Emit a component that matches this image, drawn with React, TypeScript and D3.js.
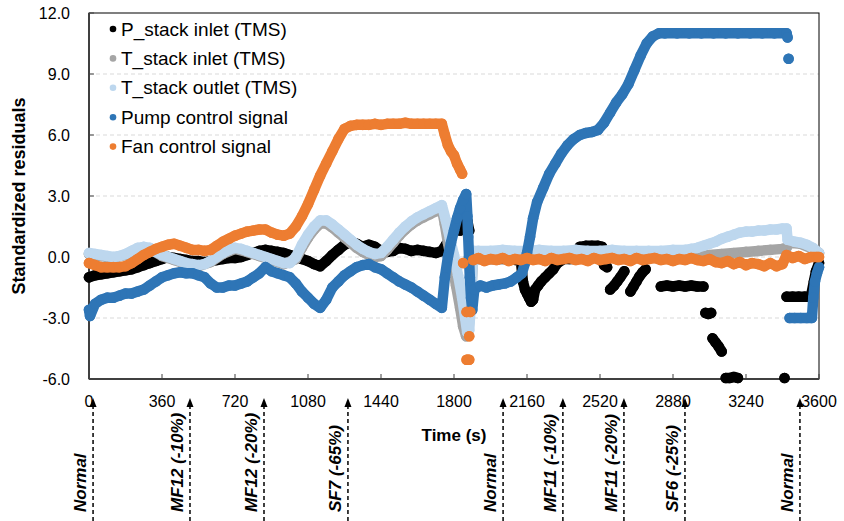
import { useRef, useEffect } from 'react';
import * as d3 from 'd3';

type Pt = [number, number | null];

// series: [time (s), standardized residual] ; null breaks the trace
const pStackInlet: Pt[] = [
  [0, -1.0], [30, -0.9], [60, -0.85], [90, -0.8], [120, -0.75], [150, -0.7], [180, -0.65], [210, -0.6],
  [240, -0.5], [270, -0.4], [300, -0.3], [330, -0.2], [360, -0.1], [390, 0.0], [420, -0.05], [450, -0.1],
  [480, -0.15], [510, -0.2], [540, -0.2], [570, -0.25], [600, -0.2], [630, -0.15], [660, -0.1], [690, -0.05],
  [720, -0.05], [750, 0.0], [780, 0.1], [810, 0.2], [840, 0.3], [870, 0.35], [900, 0.3], [930, 0.25],
  [960, 0.2], [990, 0.1], [1020, 0.0], [1050, -0.1], [1080, -0.2], [1110, -0.35], [1140, -0.45], [1170, -0.2],
  [1200, 0.1], [1230, 0.35], [1260, 0.6], [1290, 0.75], [1320, 0.65], [1350, 0.5], [1380, 0.6], [1410, 0.5],
  [1440, 0.3], [1470, 0.25], [1500, 0.3], [1530, 0.45], [1560, 0.4], [1590, 0.3], [1620, 0.35], [1650, 0.3],
  [1680, 0.25], [1710, 0.2], [1740, 0.3], [1760, 0.6], [1770, null],
  [1830, 1.3], [1845, 2.0], [1855, 2.2], [1865, 1.8], [1875, 1.3], [1885, null],
  [1900, -0.1], [1960, -0.1], [2020, -0.1], [2080, -0.1], [2130, -0.2],
  [2140, -1.2], [2150, -1.6], [2160, -1.8], [2170, -2.0], [2180, -2.2], [2190, -2.1], [2200, -1.6],
  [2215, -1.4], [2230, -1.2], [2250, -1.0], [2270, -0.8], [2290, -0.6], [2310, -0.3], [2340, -0.1],
  [2370, -0.1], [2400, -0.1], [2410, null],
  [2420, 0.5], [2450, 0.55], [2480, 0.55], [2510, 0.55], [2530, 0.5], [2535, null],
  [2540, -0.4], [2555, -0.5], [2560, null],
  [2570, -1.6], [2590, -1.4], [2605, -1.2], [2620, -1.0], [2640, -0.7], [2645, null],
  [2670, -1.7], [2685, -1.45], [2700, -1.2], [2715, -0.95], [2730, -0.75], [2745, -0.6], [2750, null],
  [2820, -1.45], [2850, -1.4], [2880, -1.45], [2910, -1.4], [2940, -1.45], [2970, -1.4], [3000, -1.45],
  [3030, -1.45], [3035, null],
  [3040, -2.75], [3055, -2.8], [3068, -2.75], [3070, null],
  [3075, -4.0], [3090, -4.2], [3105, -4.4], [3120, -4.65], [3125, null],
  [3140, -5.95], [3160, -5.95], [3180, -5.9], [3200, -5.95], [3205, null],
  [3430, -5.95], [3432, null],
  [3440, -1.95], [3470, -1.95], [3500, -1.95], [3530, -1.95], [3560, -1.95], [3575, -1.2], [3585, -0.7],
  [3600, -0.3],
];

const tStackInlet: Pt[] = [
  [0, 0.15], [60, 0.05], [120, -0.05], [180, 0.1], [240, 0.4], [300, 0.4], [360, 0.05], [420, -0.15],
  [480, -0.35], [540, -0.45], [600, -0.25], [660, 0.15], [720, 0.4], [780, 0.25], [840, 0.05], [900, -0.15],
  [960, -0.35], [1020, -0.1], [1050, 0.45], [1080, 0.95], [1110, 1.35], [1140, 1.65], [1170, 1.65],
  [1200, 1.45], [1230, 1.2], [1260, 0.95], [1290, 0.7], [1320, 0.45], [1350, 0.25], [1380, 0.1],
  [1410, 0.0], [1440, 0.05], [1470, 0.35], [1500, 0.7], [1530, 1.05], [1560, 1.35], [1590, 1.6],
  [1620, 1.8], [1650, 1.95], [1680, 2.1], [1710, 2.25], [1740, 2.4], [1755, 1.6], [1770, 0.7],
  [1790, -0.3], [1810, -1.4], [1830, -2.5], [1845, -3.4], [1860, -3.9], [1872, -3.5], [1885, -1.8],
  [1895, 0.2], [2000, 0.2], [2200, 0.2], [2400, 0.2], [2600, 0.2], [2800, 0.2], [2940, 0.2],
  [3000, 0.1], [3060, 0.1], [3120, 0.15], [3180, 0.2], [3240, 0.25], [3300, 0.3], [3360, 0.35],
  [3420, 0.4], [3440, 0.45], [3450, 0.7], [3510, 0.65], [3570, 0.4], [3600, 0.2],
];

const tStackOutlet: Pt[] = [
  [0, 0.2], [30, 0.15], [60, 0.1], [90, 0.05], [120, 0.0], [150, 0.05], [180, 0.15], [210, 0.3],
  [240, 0.45], [270, 0.5], [300, 0.45], [330, 0.25], [360, 0.1], [390, 0.0], [420, -0.1], [450, -0.2],
  [480, -0.3], [510, -0.35], [540, -0.4], [570, -0.35], [600, -0.2], [630, 0.0], [660, 0.2], [690, 0.35],
  [720, 0.45], [750, 0.4], [780, 0.3], [810, 0.2], [840, 0.1], [870, 0.0], [900, -0.1], [930, -0.2],
  [960, -0.3], [990, -0.3], [1020, 0.0], [1050, 0.6], [1080, 1.1], [1110, 1.5], [1140, 1.8], [1170, 1.8],
  [1200, 1.6], [1230, 1.35], [1260, 1.1], [1290, 0.85], [1320, 0.6], [1350, 0.4], [1380, 0.25],
  [1410, 0.15], [1440, 0.2], [1470, 0.5], [1500, 0.85], [1530, 1.2], [1560, 1.5], [1590, 1.75],
  [1620, 1.95], [1650, 2.1], [1680, 2.25], [1710, 2.4], [1740, 2.55], [1760, 1.8], [1780, 0.9],
  [1800, 0.1], [1820, -0.9], [1840, -2.0], [1855, -3.0], [1865, -3.7], [1875, -3.6], [1885, -2.0],
  [1895, 0.3], [1920, 0.3], [1980, 0.3], [2040, 0.35], [2100, 0.3], [2160, 0.3], [2220, 0.35],
  [2280, 0.3], [2340, 0.3], [2400, 0.35], [2460, 0.3], [2520, 0.3], [2580, 0.35], [2640, 0.3],
  [2700, 0.3], [2760, 0.3], [2820, 0.3], [2880, 0.35], [2940, 0.35], [2970, 0.4], [3000, 0.45],
  [3030, 0.55], [3060, 0.65], [3090, 0.75], [3120, 0.9], [3150, 1.0], [3180, 1.1], [3210, 1.2],
  [3240, 1.25], [3270, 1.25], [3300, 1.3], [3330, 1.3], [3360, 1.35], [3390, 1.35], [3420, 1.4],
  [3440, 1.4], [3445, 0.85], [3480, 0.75], [3510, 0.7], [3540, 0.6], [3570, 0.45], [3600, 0.2],
];

const pumpSignal: Pt[] = [
  [0, -2.6], [5, -2.9], [30, -2.3], [60, -2.1], [90, -2.0], [120, -2.0], [150, -1.9], [180, -1.8],
  [210, -1.8], [240, -1.7], [270, -1.6], [300, -1.4], [330, -1.2], [360, -1.0], [390, -0.9], [420, -0.8],
  [450, -0.75], [480, -0.8], [510, -0.8], [540, -0.9], [570, -1.0], [600, -1.3], [630, -1.5], [660, -1.5],
  [690, -1.4], [720, -1.4], [750, -1.3], [780, -1.2], [810, -1.0], [840, -0.8], [870, -0.5], [900, -0.7],
  [930, -0.8], [960, -0.9], [990, -1.0], [1020, -1.3], [1050, -1.7], [1080, -2.0], [1110, -2.3],
  [1140, -2.5], [1170, -2.1], [1200, -1.5], [1230, -1.2], [1260, -0.9], [1290, -0.7], [1320, -0.5],
  [1350, -0.4], [1380, -0.35], [1410, -0.5], [1440, -0.6], [1470, -0.8], [1500, -1.0], [1530, -1.2],
  [1560, -1.35], [1590, -1.5], [1620, -1.7], [1650, -1.9], [1680, -2.1], [1710, -2.3], [1740, -2.5],
  [1755, -1.0], [1770, 0.0], [1785, 0.7], [1800, 1.3], [1815, 1.9], [1830, 2.4], [1845, 2.8],
  [1860, 3.1], [1866, 2.0], [1870, 1.0], [1874, 0.0], [1878, -1.0], [1884, -2.0], [1890, -2.6],
  [1900, -1.6], [1930, -1.4], [1960, -1.5], [1990, -1.4], [2020, -1.35], [2050, -1.3], [2080, -1.2],
  [2110, -1.0], [2135, -0.8], [2150, -0.3], [2160, 0.2], [2175, 1.0], [2190, 1.9], [2210, 2.7],
  [2240, 3.4], [2270, 4.1], [2300, 4.6], [2330, 5.1], [2360, 5.5], [2390, 5.8], [2420, 6.0],
  [2450, 6.1], [2480, 6.15], [2510, 6.25], [2540, 6.6], [2570, 7.1], [2600, 7.6], [2630, 8.0],
  [2660, 8.5], [2690, 9.2], [2720, 9.9], [2750, 10.5], [2780, 10.85], [2810, 11.0], [2840, 11.0],
  [2900, 11.0], [2960, 11.0], [3020, 11.0], [3080, 11.0], [3140, 11.0], [3200, 11.0], [3260, 11.0],
  [3320, 11.0], [3380, 11.0], [3440, 11.0], [3445, 10.8], [3447, null],
  [3450, 9.75], [3452, null],
  [3455, -3.0], [3480, -3.0], [3510, -3.0], [3540, -3.0], [3565, -3.0], [3572, -2.0], [3580, -1.2],
  [3590, -0.8], [3600, -0.5],
];

const fanSignal: Pt[] = [
  [0, -0.3], [30, -0.4], [60, -0.5], [90, -0.5], [120, -0.5], [150, -0.5], [180, -0.45], [210, -0.3],
  [240, -0.1], [270, 0.1], [300, 0.25], [330, 0.4], [360, 0.5], [390, 0.6], [420, 0.65], [450, 0.55],
  [480, 0.45], [510, 0.35], [540, 0.35], [570, 0.3], [600, 0.35], [630, 0.55], [660, 0.75], [690, 0.9],
  [720, 1.05], [750, 1.15], [780, 1.25], [810, 1.3], [840, 1.35], [870, 1.35], [900, 1.2], [930, 1.1],
  [960, 1.05], [990, 1.15], [1020, 1.5], [1050, 2.0], [1080, 2.6], [1110, 3.3], [1140, 4.0], [1170, 4.6],
  [1200, 5.2], [1230, 5.8], [1260, 6.3], [1290, 6.45], [1320, 6.5], [1350, 6.5], [1380, 6.5],
  [1410, 6.55], [1440, 6.5], [1470, 6.55], [1500, 6.55], [1530, 6.55], [1560, 6.6], [1590, 6.55],
  [1620, 6.55], [1650, 6.55], [1680, 6.55], [1710, 6.55], [1740, 6.55], [1755, 6.0], [1770, 5.5],
  [1785, 5.2], [1800, 5.0], [1815, 4.6], [1830, 4.3], [1840, 4.1], [1842, null],
  [1845, -0.3], [1847, null],
  [1862, -2.7], [1863, null], [1880, -2.7], [1881, null],
  [1875, -3.9], [1876, null],
  [1862, -5.05], [1868, -5.05], [1875, -5.05], [1877, null],
  [1895, -0.15], [1920, -0.05], [1950, -0.2], [1980, -0.1], [2010, -0.15], [2040, -0.05], [2070, -0.2],
  [2100, -0.1], [2130, -0.15], [2160, -0.05], [2190, -0.15], [2220, -0.1], [2250, -0.2], [2280, -0.05],
  [2310, -0.15], [2340, -0.1], [2370, -0.05], [2400, -0.15], [2430, -0.1], [2460, -0.2], [2490, -0.05],
  [2520, -0.15], [2550, -0.1], [2580, -0.05], [2610, -0.15], [2640, -0.1], [2670, -0.2], [2700, -0.05],
  [2730, -0.15], [2760, -0.1], [2790, -0.05], [2820, -0.15], [2850, -0.1], [2880, -0.2], [2910, -0.1],
  [2940, -0.15], [2970, -0.05], [3000, -0.15], [3030, -0.2], [3060, -0.1], [3090, -0.25], [3120, -0.3],
  [3150, -0.2], [3180, -0.35], [3210, -0.25], [3240, -0.4], [3270, -0.3], [3300, -0.35], [3330, -0.45],
  [3360, -0.3], [3390, -0.45], [3420, -0.35], [3440, 0.1], [3470, -0.05], [3500, 0.05], [3530, -0.1],
  [3560, 0.0], [3590, 0.0], [3600, 0.0],
];

const seriesNames = ['P_stack inlet (TMS)', 'T_stack inlet (TMS)', 'T_stack outlet (TMS)', 'Pump control signal', 'Fan control signal'];
const seriesColors = ['#000000', '#a5a5a5', '#bdd7ee', '#2e75b6', '#ed7d31'];
const seriesData = [pStackInlet, tStackInlet, tStackOutlet, pumpSignal, fanSignal];

const xTicks = [0, 360, 720, 1080, 1440, 1800, 2160, 2520, 2880, 3240, 3600];
const yTicks = [-6, -3, 0, 3, 6, 9, 12];

// fault events marked under the time axis
const eventTimes = [20, 498, 863, 1277, 2042, 2337, 2638, 2939, 3506];
const eventLabels = ['Normal', 'MF12 (-10%)', 'MF12 (-20%)', 'SF7 (-65%)', 'Normal', 'MF11 (-10%)', 'MF11 (-20%)', 'SF6 (-25%)', 'Normal'];

export default function App() {
  const svgRef = useRef<SVGSVGElement>(null);

  useEffect(() => {
    const width = 844;
    const height = 521;
    const left = 89, right = 819, top = 13, bottom = 379;

    const svg = d3.select(svgRef.current).attr('width', width).attr('height', height);
    svg.selectAll('*').remove();

    const x = d3.scaleLinear().domain([0, 3600]).range([left, right]);
    const y = d3.scaleLinear().domain([-6, 12]).range([bottom, top]);
    const font = 'Arial, "Liberation Sans", sans-serif';

    // gridlines
    svg.append('g').selectAll('line')
      .data(yTicks.filter(t => t > -6 && t < 12))
      .join('line')
      .attr('x1', left).attr('x2', right)
      .attr('y1', d => y(d)).attr('y2', d => y(d))
      .attr('stroke', '#d9d9d9').attr('stroke-width', 1).attr('stroke-dasharray', '4,3');

    // frame
    svg.append('rect')
      .attr('x', left).attr('y', top).attr('width', right - left).attr('height', bottom - top)
      .attr('fill', 'none').attr('stroke', '#000').attr('stroke-width', 1);

    // axes lines
    svg.append('line').attr('x1', left).attr('x2', left).attr('y1', top).attr('y2', bottom)
      .attr('stroke', '#404040').attr('stroke-width', 2);
    svg.append('line').attr('x1', left).attr('x2', right).attr('y1', bottom).attr('y2', bottom)
      .attr('stroke', '#404040').attr('stroke-width', 2);

    // ticks
    svg.append('g').selectAll('line').data(xTicks).join('line')
      .attr('x1', d => x(d)).attr('x2', d => x(d)).attr('y1', bottom).attr('y2', bottom - 5)
      .attr('stroke', '#404040').attr('stroke-width', 1);
    svg.append('g').selectAll('line').data(yTicks).join('line')
      .attr('x1', left).attr('x2', left + 5).attr('y1', d => y(d)).attr('y2', d => y(d))
      .attr('stroke', '#404040').attr('stroke-width', 1);

    svg.append('g').selectAll('text').data(xTicks).join('text')
      .attr('x', d => x(d)).attr('y', bottom + 28)
      .attr('text-anchor', 'middle').attr('font-family', font).attr('font-size', 16).attr('fill', '#000')
      .text(d => d);
    svg.append('g').selectAll('text').data(yTicks).join('text')
      .attr('x', left - 19).attr('y', d => y(d)).attr('dy', '0.35em')
      .attr('text-anchor', 'end').attr('font-family', font).attr('font-size', 16).attr('fill', '#000')
      .text(d => d.toFixed(1));

    // axis titles
    svg.append('text')
      .attr('transform', `translate(25,${(top + bottom) / 2}) rotate(-90)`)
      .attr('text-anchor', 'middle').attr('font-family', font).attr('font-size', 18).attr('font-weight', 'bold')
      .text('Standardized residuals');
    svg.append('text')
      .attr('x', 454).attr('y', 441)
      .attr('text-anchor', 'middle').attr('font-family', font).attr('font-size', 17).attr('font-weight', 'bold')
      .text('Time (s)');

    // series
    const line = d3.line<Pt>()
      .defined(d => d[1] !== null)
      .x(d => x(d[0]))
      .y(d => y(d[1] as number));

    seriesData.forEach((data, i) => {
      const g = svg.append('g');
      g.append('path')
        .datum(data)
        .attr('d', line)
        .attr('fill', 'none')
        .attr('stroke', seriesColors[i])
        .attr('stroke-width', 10.5)
        .attr('stroke-linejoin', 'round')
        .attr('stroke-linecap', 'round');
      g.selectAll('circle')
        .data(data.filter(d => d[1] !== null))
        .join('circle')
        .attr('cx', d => x(d[0]))
        .attr('cy', d => y(d[1] as number))
        .attr('r', 5.3)
        .attr('fill', seriesColors[i]);
    });

    // legend
    const legend = svg.append('g');
    seriesNames.forEach((name, i) => {
      const cy = 29 + i * 29.4;
      legend.append('circle').attr('cx', 113).attr('cy', cy).attr('r', 3.3).attr('fill', seriesColors[i]);
      legend.append('text').attr('x', 121).attr('y', cy + 6.5)
        .attr('font-family', font).attr('font-size', 19).attr('fill', '#000')
        .text(name);
    });

    // event arrows
    const events = svg.append('g');
    eventTimes.forEach((t, i) => {
      const ex = x(t);
      events.append('line')
        .attr('x1', ex).attr('x2', ex).attr('y1', 521).attr('y2', 405)
        .attr('stroke', '#000').attr('stroke-width', 1.5).attr('stroke-dasharray', '4,3');
      events.append('path')
        .attr('d', `M${ex},398 L${ex - 3.5},407 L${ex + 3.5},407 Z`)
        .attr('fill', '#000');
      events.append('text')
        .attr('transform', `translate(${ex - 7},512) rotate(-90)`)
        .attr('font-family', font).attr('font-size', 17).attr('font-weight', 'bold').attr('font-style', 'italic')
        .text(eventLabels[i]);
    });
  }, []);

  return <svg ref={svgRef} style={{ position: 'absolute', left: 0, top: 0 }} />;
}
